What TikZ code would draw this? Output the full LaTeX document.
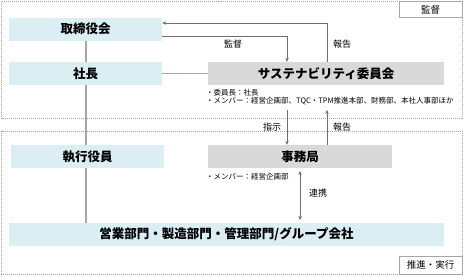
\documentclass[tikz,border=0pt]{standalone}
\usepackage{fontspec}
\setmainfont{Noto Sans CJK JP}
\usetikzlibrary{arrows.meta,backgrounds}
\definecolor{lblue}{HTML}{DBEEF4}
\definecolor{lgray}{HTML}{D9D9D9}
\definecolor{lnc}{HTML}{A6A6A6}
\definecolor{arc}{HTML}{6E6E6E}
\tikzset{
  bluebox/.style={fill=lblue, inner sep=0pt, minimum height=23pt, font=\fontsize{12.5}{14}\selectfont\bfseries},
  graybox/.style={fill=lgray, inner sep=0pt, minimum height=23pt, font=\fontsize{12.5}{14}\selectfont\bfseries},
  arr/.style={draw=arc, line width=0.8pt, -{Stealth[length=4pt,width=3.5pt]}},
  biarr/.style={draw=arc, line width=0.8pt, {Stealth[length=4pt,width=3.5pt]}-{Stealth[length=4pt,width=3.5pt]}},
  lbl/.style={font=\fontsize{9}{10}\selectfont, inner sep=0pt},
  note/.style={font=\fontsize{7.5}{8}\selectfont, inner sep=0pt, anchor=west},
  region/.style={draw=lnc, dash pattern=on 1pt off 1pt, line width=0.6pt},
  tagbox/.style={draw=lnc, fill=white, line width=0.6pt, inner sep=0pt, font=\fontsize{9.5}{10}\selectfont},
}
\begin{document}
\begin{tikzpicture}[x=1pt,y=-1pt]
\useasboundingbox (0,0) rectangle (471,277);
% regions
\draw[region] (1.5,1.5) rectangle (462,118);
\draw[region] (1.5,131) rectangle (462,274);
\node[tagbox, minimum width=63pt, minimum height=16pt] (tag1) at (430.5,9.5) {監督};
\node[tagbox, minimum width=63pt, minimum height=18pt] (tag2) at (430.5,265) {推進・実行};
% boxes
\node[bluebox, minimum width=153pt] (tori) at (85.5,29) {取締役会};
\node[bluebox, minimum width=153pt] (shacho) at (85.5,73.5) {社長};
\node[graybox, minimum width=236pt] (sus) at (326,73.5) {サステナビリティ委員会};
\node[bluebox, minimum width=153pt] (shikko) at (87.5,156.5) {執行役員};
\node[graybox, minimum width=184pt] (jimu) at (300,156.5) {事務局};
\node[bluebox, minimum width=435pt] (eigyo) at (226.5,234.5) {営業部門・製造部門・管理部門/グループ会社};
% lines behind
\begin{scope}[on background layer]
\draw[lnc, line width=1.5pt] (tori.south -| 86,0) -- (eigyo.north -| 86,0);
\end{scope}
\draw[lnc, line width=1.2pt] (shacho.east) -- (sus.west);
% arrows
\coordinate (a1) at (327,23);
\coordinate (a2) at (287,36);
\coordinate (a3) at (287,110);
\coordinate (a4) at (327,110);
\coordinate (a5) at (300,171);
\coordinate (a6) at (300,220);
\draw[arr] (a1 |- sus.north) -- (a1) -- (a1 -| tori.east);
\draw[arr] (a2 -| tori.east) -- (a2) -- (a2 |- sus.north);
\draw[arr] (a3) -- (a3 |- jimu.north);
\draw[arr] (a4 |- jimu.north) -- (a4);
\draw[biarr] (a5) -- (a6);
% labels
\node[lbl] (l1) at (233,44) {監督};
\node[lbl] (l2) at (342,44) {報告};
\node[lbl] (l3) at (272,127) {指示};
\node[lbl] (l4) at (342,127) {報告};
\node[lbl] (l5) at (318,193) {連携};
% notes
\node[note] (n1) at (206,93) {・委員長：社長};
\node[note] (n2) at (206,101.5) {・メンバー：経営企画部、TQC・TPM推進本部、財務部、本社人事部ほか};
\node[note] (n3) at (206,177) {・メンバー：経営企画部};
\end{tikzpicture}
\end{document}
